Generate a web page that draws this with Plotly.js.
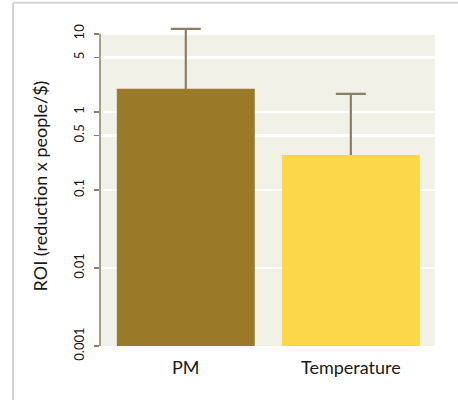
<!DOCTYPE html>
<html><head><meta charset="utf-8">
<script src="https://cdn.plot.ly/plotly-3.0.1.min.js"></script>
<style>html,body{margin:0;padding:0;background:#fff}#chart{width:458px;height:400px}</style>
</head><body><div id="chart"></div>
<script>
const categories = ["PM", "Temperature"];
const roiValues = [1.97, 0.28];
const errorUpper = [9.6, 1.42];
const errorLower = [1.0, 0.14];   // lower half lies inside the bar, hidden by it
const barColors = ["#9a7a28", "#fcd848"];
const yTickVals = [0.001, 0.01, 0.1, 0.5, 1, 5, 10];
const yTickText = ["0.001", "0.01", "0.1", "0.5", "1", "5", "10"];
const yMin = 0.001, yMax = 10;

const FONT = "Lato, 'Noto Sans', sans-serif";
const axisCol = "#8a7f6a";

const whiskers = {
  type: "bar", x: categories, y: roiValues, width: 0.836,
  marker: {color: "rgba(0,0,0,0)"},
  error_y: {type: "data", symmetric: false, array: errorUpper, arrayminus: errorLower,
            color: axisCol, thickness: 2.2, width: 15},
  hoverinfo: "skip"
};
const bars = {
  type: "bar", x: categories, y: roiValues, width: 0.836,
  marker: {color: barColors}, hoverinfo: "skip"
};

const layout = {
  width: 458, height: 400,
  margin: {l: 100, r: 23, t: 26, b: 54},
  barmode: "overlay",
  paper_bgcolor: "#ffffff",
  plot_bgcolor: "#ffffff",
  showlegend: false,
  font: {family: FONT, color: "#1a1a1a"},
  xaxis: {
    range: [-0.52, 1.51], showgrid: false, zeroline: false, showline: false,
    ticks: "", ticklabelstandoff: 9, tickfont: {size: 18, family: FONT, color: "#1a1a1a"}
  },
  yaxis: {
    type: "log", range: [-3, 1.1], tickvals: yTickVals, ticktext: yTickText,
    tickangle: -90, tickfont: {size: 13, family: FONT, color: "#1a1a1a"},
    ticks: "outside", ticklen: 5, tickcolor: axisCol, tickwidth: 1.5,
    ticklabelstandoff: 5,
    showline: false,
    showgrid: true, gridcolor: "#ffffff", gridwidth: 2.5, zeroline: false,
    title: {text: "ROI (reduction x people/$)", font: {size: 18, family: FONT, color: "#1a1a1a"}, standoff: 18}
  },
  shapes: [
    {type: "rect", layer: "below", xref: "paper", yref: "y", x0: 0, x1: 1, y0: yMin, y1: yMax,
     fillcolor: "#f1f1e7", line: {width: 0}},
    {type: "line", xref: "paper", yref: "y", x0: 0, x1: 0, y0: yMin, y1: yMax,
     line: {color: axisCol, width: 1.5}},
    {type: "line", xref: "paper", yref: "paper", x0: -0.2597, x1: 1.08, y0: 1.0725, y1: 1.0725,
     line: {color: "#d4d4d4", width: 2}},
    {type: "line", xref: "paper", yref: "paper", x0: -0.2597, x1: -0.2597, y0: 1.0725, y1: -0.2,
     line: {color: "#d4d4d4", width: 2}}
  ]
};

Plotly.newPlot("chart", [whiskers, bars], layout, {displayModeBar: false, staticPlot: true});
</script></body></html>
